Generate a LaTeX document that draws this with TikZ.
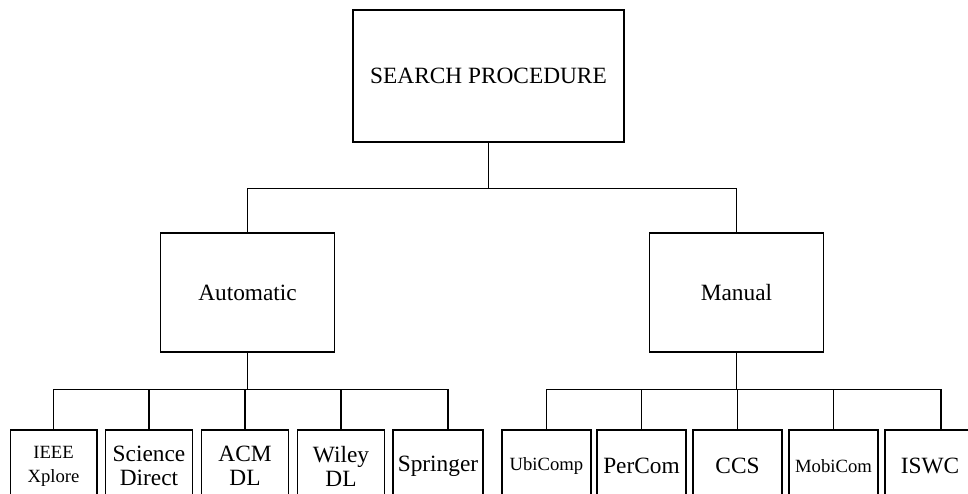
\documentclass[tikz,border=0pt]{standalone}
\usepackage{fontspec}
\setmainfont{Liberation Serif}
\begin{document}
\begin{tikzpicture}[x=0.75pt,y=-0.75pt,line width=1pt,
		box/.style={draw,inner sep=0pt,align=center,font=\fontsize{17.5}{18}\selectfont},
		leaf/.style={box,minimum width=65pt,minimum height=54pt},
		smallleaf/.style={leaf,font=\fontsize{14}{18}\selectfont}]
		\useasboundingbox (0,0) rectangle (968,493);
		\node[box,minimum width=203.25pt,minimum height=99pt] (search) at (488.5,76) {SEARCH PROCEDURE};
		\node[box,minimum width=130.5pt,minimum height=89.25pt] (auto) at (247.5,292.5) {Automatic};
		\node[box,minimum width=130.5pt,minimum height=89.25pt] (manual) at (736.5,292.5) {Manual};
		\node[smallleaf] (ieee) at (53.5,466) {IEEE\\Xplore};
		\node[leaf] (sci) at (149,466) {Science\\Direct};
		\node[leaf] (acm) at (245,466) {ACM\\DL};
		\node[leaf] (wiley) at (341,466) {Wiley\\DL};
		\node[leaf,minimum width=67.5pt] (spr) at (438,466) {Springer};
		\node[smallleaf,minimum width=66.75pt] (ubi) at (546.5,466) {UbiComp};
		\node[leaf,minimum width=66.75pt] (per) at (641.5,466) {PerCom};
		\node[leaf,minimum width=66.75pt] (ccs) at (737.5,466) {CCS};
		\node[smallleaf,minimum width=66.75pt] (mobi) at (833.5,466) {MobiCom};
		\node[leaf,minimum width=67.5pt] (iswc) at (930,466) {ISWC};
		\draw (search.south) -- ++(0,46) -| (auto.north);
		\draw (search.south) -- ++(0,46) -| (manual.north);
		\foreach \src in {ieee,sci,acm,wiley}
			\draw (auto.south) -- ++(0,37) -| (\src.north);
		\draw (auto.south) -- ++(0,37) -| ([xshift=7.5pt]spr.north);
		\foreach \src in {ubi,per,ccs,mobi}
			\draw (manual.south) -- ++(0,37) -| (\src.north);
		\draw (manual.south) -- ++(0,37) -| ([xshift=8.25pt]iswc.north);
	\end{tikzpicture}
\end{document}
